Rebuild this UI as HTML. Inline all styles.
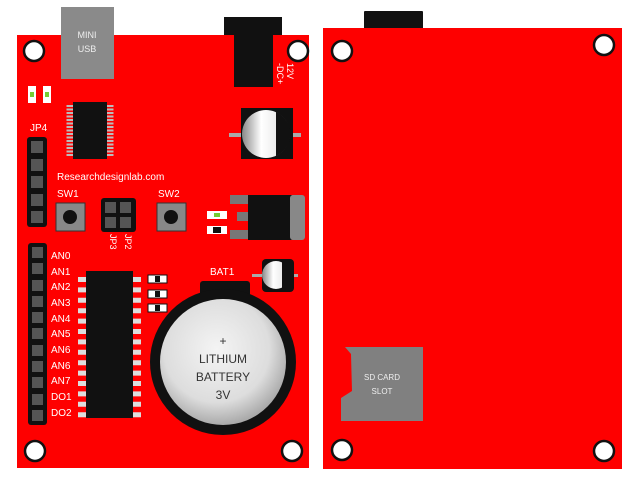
<!DOCTYPE html>
<html><head><style>body{margin:0;background:#fff}</style></head><body>
<svg width="640" height="480" xmlns="http://www.w3.org/2000/svg" font-family="Liberation Sans, sans-serif">
<defs>
<linearGradient id="cg" x1="0" x2="1"><stop offset="0" stop-color="#888"/><stop offset="0.4" stop-color="#fff"/><stop offset="1" stop-color="#ddd"/></linearGradient>
<radialGradient id="bg" cx="0.45" cy="0.4" r="0.6"><stop offset="0" stop-color="#f4f4f4"/><stop offset="0.7" stop-color="#ddd"/><stop offset="1" stop-color="#aaa"/></radialGradient>
</defs>
<rect x="224" y="17" width="58" height="20" fill="#111"/>
<rect x="17" y="35" width="292" height="433" fill="#fe0000"/>
<rect x="234" y="35" width="39" height="52" fill="#111"/>
<rect x="61" y="7" width="53" height="72" fill="#8a8a8a"/>
<text x="87" y="38" font-size="9" fill="#eee" text-anchor="middle">MINI</text>
<text x="87" y="52" font-size="9" fill="#eee" text-anchor="middle">USB</text>
<g fill="#fff" stroke="#111" stroke-width="2.5">
<circle cx="34" cy="51" r="10"/><circle cx="298" cy="51" r="10"/><circle cx="35" cy="451" r="10"/><circle cx="292" cy="451" r="10"/>
</g>
<text transform="translate(287,63) rotate(90)" font-size="9" fill="#fff">12V</text>
<text transform="translate(277,63) rotate(90)" font-size="9" fill="#fff">-DC+</text>
<rect x="28" y="86" width="8" height="17" fill="#fff"/><rect x="30" y="92" width="4" height="5" fill="#7c3"/>
<rect x="43" y="86" width="8" height="17" fill="#fff"/><rect x="45" y="92" width="4" height="5" fill="#7c3"/>
<g stroke="#bbb" stroke-width="7" stroke-dasharray="2 1.5">
<line x1="70" y1="105" x2="70" y2="156"/><line x1="110" y1="105" x2="110" y2="156"/>
</g>
<rect x="73" y="102" width="34" height="57" fill="#111"/>
<text x="30" y="131" font-size="10" fill="#fff">JP4</text>
<rect x="27" y="137" width="20" height="90" rx="3" fill="#111"/>
<g fill="#555"><rect x="31" y="141" width="12" height="12"/><rect x="31" y="159" width="12" height="12"/><rect x="31" y="176" width="12" height="12"/><rect x="31" y="194" width="12" height="12"/><rect x="31" y="211" width="12" height="12"/></g>
<text x="57" y="180" font-size="10" fill="#fff">Researchdesignlab.com</text>
<text x="57" y="197" font-size="10" fill="#fff">SW1</text>
<text x="158" y="197" font-size="10" fill="#fff">SW2</text>
<rect x="56" y="203" width="29" height="28" fill="#888" stroke="#333"/><circle cx="70" cy="217" r="7" fill="#111"/>
<rect x="157" y="203" width="29" height="28" fill="#888" stroke="#333"/><circle cx="171" cy="217" r="7" fill="#111"/>
<rect x="101" y="198" width="35" height="34" rx="3" fill="#111"/>
<g fill="#555"><rect x="105" y="202" width="11" height="11"/><rect x="120" y="202" width="11" height="11"/><rect x="105" y="217" width="11" height="11"/><rect x="120" y="217" width="11" height="11"/></g>
<text transform="translate(110,234) rotate(90)" font-size="9" fill="#fff">JP3</text>
<text transform="translate(125,234) rotate(90)" font-size="9" fill="#fff">JP2</text>
<rect x="229" y="133" width="72" height="4" fill="#aaa"/>
<rect x="241" y="108" width="52" height="51" fill="#111"/>
<circle cx="266" cy="134" r="24" fill="url(#cg)"/>
<path d="M276 112 A24 24 0 0 1 276 156 Z" fill="#111"/>
<g fill="#777"><rect x="230" y="195" width="20" height="9"/><rect x="237" y="212" width="13" height="9"/><rect x="230" y="230" width="20" height="9"/></g>
<rect x="248" y="195" width="44" height="45" fill="#111"/>
<rect x="290" y="195" width="15" height="45" rx="3" fill="#888"/>
<rect x="207" y="211" width="20" height="8" fill="#fff"/><rect x="214" y="213" width="6" height="4" fill="#7c3"/>
<rect x="207" y="226" width="20" height="8" fill="#fff"/><rect x="213" y="227" width="8" height="6" fill="#111"/>
<rect x="28" y="243" width="19" height="182" rx="3" fill="#111"/>
<g fill="#555">
<rect x="32" y="247" width="11" height="11"/><rect x="32" y="263" width="11" height="11"/><rect x="32" y="280" width="11" height="11"/><rect x="32" y="296" width="11" height="11"/><rect x="32" y="312" width="11" height="11"/><rect x="32" y="328" width="11" height="11"/><rect x="32" y="345" width="11" height="11"/><rect x="32" y="361" width="11" height="11"/><rect x="32" y="377" width="11" height="11"/><rect x="32" y="394" width="11" height="11"/><rect x="32" y="410" width="11" height="11"/>
</g>
<g font-size="10" fill="#fff">
<text x="51" y="259">AN0</text><text x="51" y="275">AN1</text><text x="51" y="290">AN2</text><text x="51" y="306">AN3</text><text x="51" y="322">AN4</text><text x="51" y="337">AN5</text><text x="51" y="353">AN6</text><text x="51" y="369">AN6</text><text x="51" y="384">AN7</text><text x="51" y="400">DO1</text><text x="51" y="416">DO2</text>
</g>
<g stroke="#ddd" stroke-width="10" stroke-dasharray="5 5.4">
<line x1="83" y1="277" x2="83" y2="420"/><line x1="136" y1="277" x2="136" y2="420"/>
</g>
<rect x="86" y="271" width="47" height="147" fill="#111"/>
<g fill="#fff" stroke="#111"><rect x="148" y="275" width="19" height="8"/><rect x="148" y="290" width="19" height="8"/><rect x="148" y="304" width="19" height="8"/></g>
<g fill="#111"><rect x="155" y="276" width="5" height="6"/><rect x="155" y="291" width="5" height="6"/><rect x="155" y="305" width="5" height="6"/></g>
<text x="210" y="275" font-size="10" fill="#fff">BAT1</text>
<rect x="200" y="281" width="50" height="25" rx="3" fill="#111"/>
<circle cx="223" cy="362" r="73" fill="#111"/>
<circle cx="223" cy="362" r="63" fill="url(#bg)"/>
<g font-size="12" fill="#333" text-anchor="middle"><text x="223" y="345">+</text><text x="223" y="363">LITHIUM</text><text x="223" y="381">BATTERY</text><text x="223" y="399">3V</text></g>
<rect x="252" y="274" width="46" height="3" fill="#aaa"/>
<rect x="262" y="259" width="32" height="33" rx="4" fill="#111"/>
<circle cx="276" cy="275" r="14" fill="url(#cg)"/>
<path d="M282 262 A14 14 0 0 1 282 288 Z" fill="#111"/>
<rect x="364" y="11" width="59" height="18" rx="1" fill="#111"/>
<rect x="323" y="28" width="299" height="441" fill="#fe0000"/>
<g fill="#fff" stroke="#111" stroke-width="2.5">
<circle cx="342" cy="51" r="10"/><circle cx="604" cy="45" r="10"/><circle cx="342" cy="450" r="10"/><circle cx="604" cy="451" r="10"/>
</g>
<path d="M345 347 L423 347 L423 421 L341 421 L341 398 L352 391 L351 354 Z" fill="#808080"/>
<text x="382" y="380" font-size="8" fill="#eee" text-anchor="middle">SD CARD</text>
<text x="382" y="394" font-size="8" fill="#eee" text-anchor="middle">SLOT</text>
</svg>
</body></html>
